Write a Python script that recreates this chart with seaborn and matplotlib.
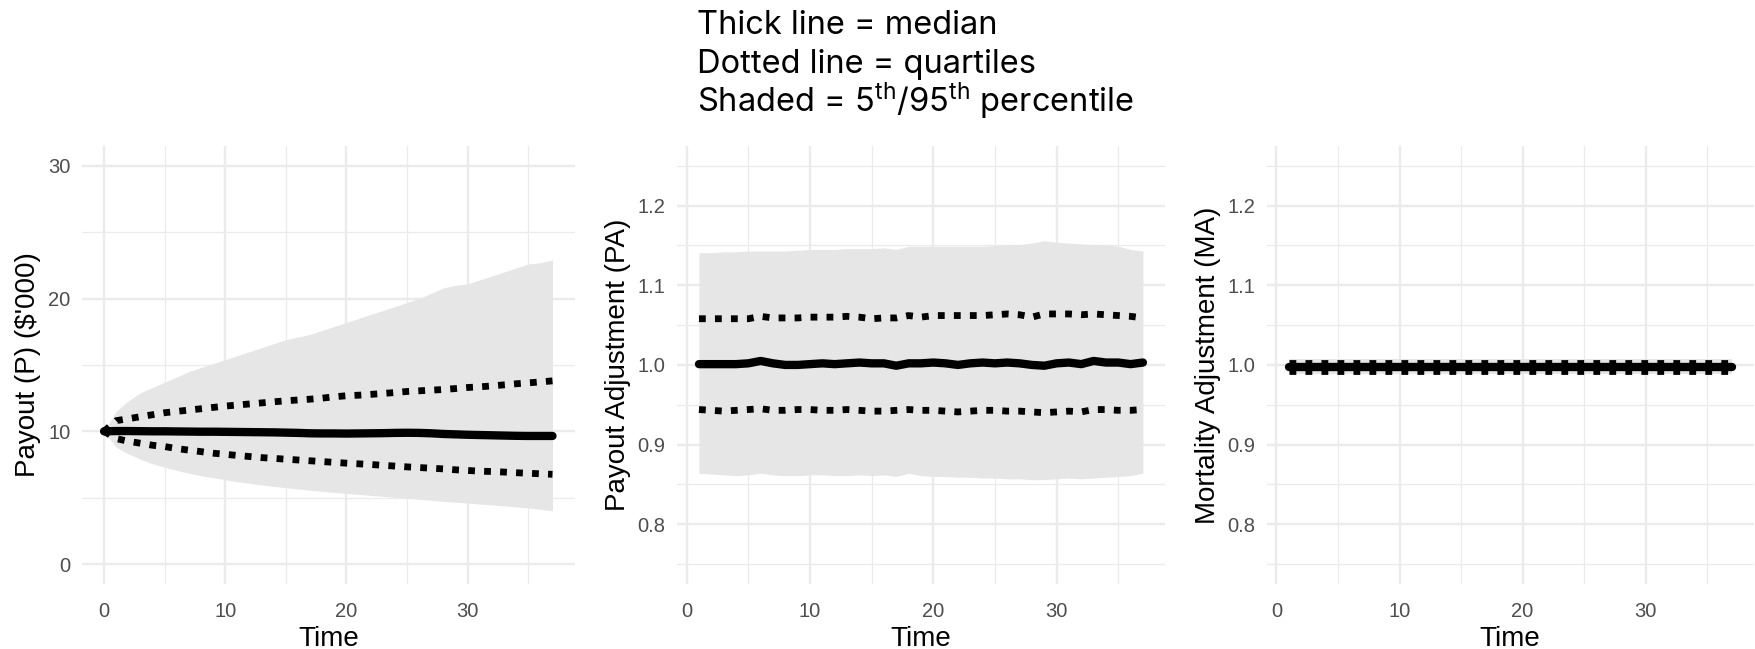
import numpy as np
import pandas as pd
import matplotlib
matplotlib.use("Agg")
import matplotlib.pyplot as plt
import seaborn as sns
from matplotlib.ticker import MultipleLocator

# ---------------- data ----------------
time_p = list(range(0, 38))
p_median = [10.00, 10.02, 10.02, 10.01, 10.00, 10.00, 9.99, 9.98, 9.97, 9.97,
            9.96, 9.95, 9.94, 9.93, 9.92, 9.90, 9.88, 9.85, 9.84, 9.84,
            9.83, 9.84, 9.85, 9.86, 9.88, 9.89, 9.88, 9.85, 9.80, 9.77,
            9.74, 9.72, 9.70, 9.68, 9.66, 9.65, 9.65, 9.65]
p_q75 = [10.0, 10.8, 10.95, 11.1, 11.25, 11.4, 11.5, 11.6, 11.7, 11.8,
         11.9, 11.98, 12.06, 12.14, 12.22, 12.3, 12.36, 12.42, 12.5, 12.6,
         12.68, 12.72, 12.78, 12.85, 12.92, 13.0, 13.05, 13.1, 13.15, 13.22,
         13.3, 13.35, 13.42, 13.5, 13.58, 13.65, 13.72, 13.8]
p_q25 = [10.0, 9.45, 9.25, 9.1, 8.95, 8.85, 8.7, 8.58, 8.47, 8.35,
         8.27, 8.18, 8.1, 8.02, 7.96, 7.9, 7.84, 7.78, 7.72, 7.66,
         7.6, 7.55, 7.5, 7.44, 7.38, 7.32, 7.27, 7.22, 7.17, 7.1,
         7.05, 7.0, 6.97, 6.93, 6.88, 6.84, 6.8, 6.76]
p_p95 = [10.0, 11.5, 12.3, 12.9, 13.3, 13.7, 14.1, 14.5, 14.8, 15.1,
         15.4, 15.7, 16.0, 16.3, 16.6, 16.9, 17.1, 17.3, 17.6, 17.9,
         18.2, 18.5, 18.8, 19.1, 19.4, 19.7, 20.0, 20.4, 20.8, 21.0,
         21.1, 21.4, 21.7, 22.0, 22.3, 22.6, 22.7, 22.9]
p_p05 = [10.0, 8.8, 8.3, 7.9, 7.55, 7.3, 7.05, 6.85, 6.65, 6.5,
         6.35, 6.2, 6.08, 5.96, 5.85, 5.75, 5.65, 5.56, 5.48, 5.4,
         5.32, 5.25, 5.17, 5.1, 5.02, 4.95, 4.88, 4.8, 4.73, 4.66,
         4.6, 4.52, 4.45, 4.38, 4.3, 4.22, 4.12, 4.02]

time_a = list(range(1, 38))
pa_median = [1.001, 1.001, 1.001, 1.001, 1.002, 1.005, 1.002, 1.000, 1.000, 1.001,
             1.002, 1.001, 1.002, 1.003, 1.002, 1.002, 0.999, 1.002, 1.002, 1.003,
             1.002, 1.000, 1.002, 1.003, 1.002, 1.003, 1.002, 1.000, 0.999, 1.002,
             1.003, 1.001, 1.005, 1.003, 1.003, 1.001, 1.003]
pa_q75 = [1.058, 1.058, 1.058, 1.058, 1.058, 1.061, 1.059, 1.059, 1.059, 1.060,
          1.060, 1.060, 1.061, 1.060, 1.058, 1.059, 1.059, 1.062, 1.060, 1.062,
          1.062, 1.062, 1.062, 1.062, 1.063, 1.064, 1.063, 1.060, 1.064, 1.064,
          1.064, 1.063, 1.064, 1.063, 1.062, 1.061, 1.059]
pa_q25 = [0.944, 0.943, 0.942, 0.943, 0.944, 0.945, 0.943, 0.943, 0.944, 0.944,
          0.943, 0.943, 0.944, 0.943, 0.942, 0.942, 0.943, 0.944, 0.943, 0.943,
          0.942, 0.941, 0.942, 0.943, 0.943, 0.942, 0.942, 0.941, 0.940, 0.941,
          0.942, 0.941, 0.944, 0.944, 0.943, 0.943, 0.944]
pa_p95 = [1.141, 1.141, 1.142, 1.142, 1.143, 1.143, 1.143, 1.143, 1.144, 1.145,
          1.145, 1.145, 1.146, 1.146, 1.146, 1.147, 1.145, 1.149, 1.149, 1.149,
          1.149, 1.149, 1.149, 1.149, 1.150, 1.151, 1.151, 1.153, 1.156, 1.154,
          1.153, 1.152, 1.151, 1.151, 1.149, 1.145, 1.143]
pa_p05 = [0.864, 0.863, 0.862, 0.861, 0.862, 0.864, 0.862, 0.861, 0.861, 0.862,
          0.862, 0.861, 0.861, 0.862, 0.861, 0.862, 0.860, 0.864, 0.861, 0.860,
          0.860, 0.859, 0.859, 0.858, 0.858, 0.857, 0.857, 0.856, 0.856, 0.857,
          0.858, 0.857, 0.858, 0.859, 0.860, 0.861, 0.864]

ma_median = [0.998, 0.998, 0.998, 0.998, 0.998, 0.998, 0.998, 0.998, 0.998, 0.998,
             0.998, 0.998, 0.998, 0.998, 0.998, 0.998, 0.998, 0.998, 0.998, 0.998,
             0.998, 0.998, 0.998, 0.998, 0.998, 0.998, 0.998, 0.998, 0.998, 0.998,
             0.998, 0.998, 0.998, 0.998, 0.998, 0.998, 0.998]
ma_q75 = [1.003, 1.003, 1.003, 1.003, 1.003, 1.003, 1.003, 1.003, 1.003, 1.003,
          1.003, 1.003, 1.003, 1.003, 1.003, 1.003, 1.003, 1.003, 1.003, 1.003,
          1.003, 1.003, 1.003, 1.003, 1.003, 1.003, 1.003, 1.003, 1.003, 1.003,
          1.003, 1.003, 1.003, 1.003, 1.003, 1.003, 1.003]
ma_q25 = [0.993, 0.993, 0.993, 0.993, 0.993, 0.993, 0.993, 0.993, 0.993, 0.993,
          0.993, 0.993, 0.993, 0.993, 0.993, 0.993, 0.993, 0.993, 0.993, 0.993,
          0.993, 0.993, 0.993, 0.993, 0.993, 0.993, 0.993, 0.993, 0.993, 0.993,
          0.993, 0.993, 0.993, 0.993, 0.993, 0.993, 0.993]
ma_p95 = [1.007, 1.007, 1.007, 1.007, 1.007, 1.007, 1.007, 1.007, 1.007, 1.007,
          1.007, 1.007, 1.007, 1.007, 1.007, 1.007, 1.007, 1.007, 1.007, 1.007,
          1.007, 1.007, 1.007, 1.007, 1.007, 1.007, 1.007, 1.007, 1.007, 1.007,
          1.007, 1.007, 1.007, 1.007, 1.007, 1.007, 1.007]
ma_p05 = [0.989, 0.989, 0.989, 0.989, 0.989, 0.989, 0.989, 0.989, 0.989, 0.989,
          0.989, 0.989, 0.989, 0.989, 0.989, 0.989, 0.989, 0.989, 0.989, 0.989,
          0.989, 0.989, 0.989, 0.989, 0.989, 0.989, 0.989, 0.989, 0.989, 0.989,
          0.989, 0.989, 0.989, 0.989, 0.989, 0.989, 0.989]

y_labels = ["Payout (P) ($'000)", "Payout Adjustment (PA)", "Mortality Adjustment (MA)"]
x_label = "Time"
title_lines = ["Thick line = median", "Dotted line = quartiles",
               "Shaded = 5$^{th}$/95$^{th}$ percentile"]

# ---------------- style ----------------
sns.set_theme(style="white")
plt.rcParams['font.family'] = ['Liberation Sans', 'DejaVu Sans']
plt.rcParams['mathtext.fontset'] = 'custom'
plt.rcParams['mathtext.rm'] = 'Inter'
plt.rcParams['mathtext.it'] = 'Inter'
plt.rcParams['mathtext.default'] = 'rm'

fig = plt.figure(figsize=(17.56, 6.49), dpi=100)
bottom, height = 0.1002, 0.675
ax1 = fig.add_axes([0.0465, bottom, 0.2809, height])
ax2 = fig.add_axes([0.3854, bottom, 0.2781, height])
ax3 = fig.add_axes([0.7213, bottom, 0.2775, height])

GRID = '#ebebeb'
SHADE = '#e6e6e6'
DOT = (0, (1, 1.35))


def panel(ax, t, med, q75, q25, p95, p05, ylabel, xlim, ylim, ymaj, ymin):
    df = pd.DataFrame({'time': t, 'median': med, 'q75': q75, 'q25': q25,
                       'p95': p95, 'p05': p05})
    ax.fill_between(df['time'], df['p05'], df['p95'], color=SHADE, lw=0, zorder=1)
    sns.lineplot(data=df, x='time', y='q75', ax=ax, color='black', linewidth=4.9,
                 linestyle=DOT, zorder=3)
    sns.lineplot(data=df, x='time', y='q25', ax=ax, color='black', linewidth=4.9,
                 linestyle=DOT, zorder=3)
    sns.lineplot(data=df, x='time', y='median', ax=ax, color='black', linewidth=6.0,
                 zorder=4)
    ax.set_xlim(*xlim)
    ax.set_ylim(*ylim)
    ax.xaxis.set_major_locator(MultipleLocator(10))
    ax.xaxis.set_minor_locator(MultipleLocator(5))
    ax.yaxis.set_major_locator(MultipleLocator(ymaj))
    ax.yaxis.set_minor_locator(MultipleLocator(ymin))
    ax.set_axisbelow(True)
    ax.grid(which='major', color=GRID, lw=1.7, zorder=0)
    ax.grid(which='minor', color=GRID, lw=0.9, zorder=0)
    for s in ax.spines.values():
        s.set_visible(False)
    ax.tick_params(which='both', length=0, labelsize=14.5, labelcolor='#4d4d4d')
    ax.tick_params(axis='x', pad=13)
    ax.tick_params(axis='y', pad=8)
    ax.set_xlabel(x_label, fontsize=20, color='black', labelpad=3.5)
    ax.set_ylabel(ylabel, fontsize=20, color='black', labelpad=5)


panel(ax1, time_p, p_median, p_q75, p_q25, p_p95, p_p05, y_labels[0],
      (-1.85, 38.85), (-1.5, 31.5), 10, 5)
panel(ax2, time_a, pa_median, pa_q75, pa_q25, pa_p95, pa_p05, y_labels[1],
      (-0.8, 38.8), (0.725, 1.275), 0.1, 0.05)
panel(ax3, time_a, ma_median, ma_q75, ma_q25, ma_p95, ma_p05, y_labels[2],
      (-0.8, 38.8), (0.725, 1.275), 0.1, 0.05)

for ax in (ax2, ax3):
    ax.yaxis.set_major_formatter(matplotlib.ticker.FormatStrFormatter('%.1f'))

baselines = [1 - 33.5 / 649, 1 - 72.5 / 649, 1 - 111.5 / 649]
for line, yb in zip(title_lines, baselines):
    fig.text(697 / 1756, yb, line, fontsize=23.5, family=['Inter', 'DejaVu Sans'],
             color='black', ha='left', va='baseline')

fig.savefig('out.png', dpi=100)
